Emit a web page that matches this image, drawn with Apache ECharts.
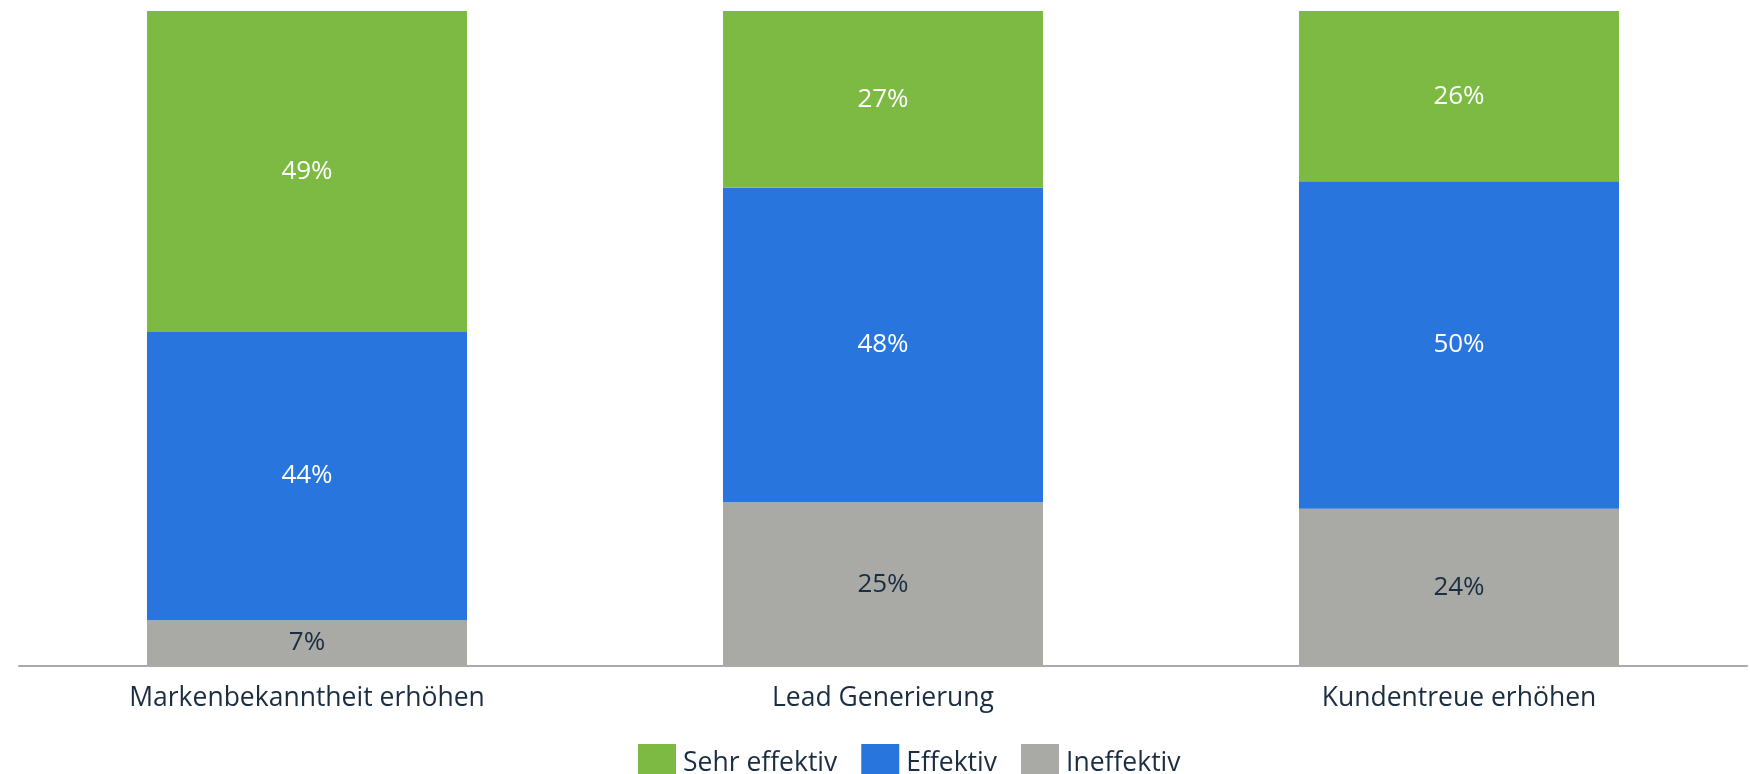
<!DOCTYPE html>
<html>
<head>
<meta charset="utf-8">
<script src="https://cdn.jsdelivr.net/npm/echarts@6/dist/echarts.min.js"></script>
<style>
  html, body { margin: 0; padding: 0; background: #ffffff; }
  #chart { width: 1750px; height: 774px; }
</style>
</head>
<body>
<div id="chart"></div>
<script>
// Categories (x axis)
const categories = ['Markenbekanntheit erhöhen', 'Lead Generierung', 'Kundentreue erhöhen'];

// Series names (legend order)
const seriesNames = ['Sehr effektiv', 'Effektiv', 'Ineffektiv'];

// Shares in percent, one value per category
const ineffektiv = [7, 25, 24];
const effektiv = [44, 48, 50];
const sehrEffektiv = [49, 27, 26];

const colors = {
  green: '#7cba43',
  blue: '#2876dd',
  gray: '#a9aaa5',
  text: '#1b2d41'
};

const FONT = '"Open Sans", "Noto Sans", sans-serif';

function barSeries(name, data, color, labelColor) {
  return {
    name: name,
    type: 'bar',
    stack: 'total',
    barWidth: 320,
    data: data,
    itemStyle: { color: color },
    emphasis: { disabled: true },
    label: {
      show: true,
      position: 'inside',
      formatter: '{c}%',
      color: labelColor,
      fontFamily: FONT,
      fontSize: 26
    }
  };
}

const chart = echarts.init(document.getElementById('chart'), null, { renderer: 'canvas' });

chart.setOption({
  animation: false,
  backgroundColor: '#ffffff',
  grid: { left: 19, right: 3, top: 11, bottom: 108, containLabel: false },
  legend: {
    data: seriesNames,
    left: 633,
    top: 739,
    itemWidth: 38,
    itemHeight: 38,
    itemGap: 24,
    icon: 'rect',
    textStyle: {
      color: colors.text,
      fontFamily: FONT,
      fontSize: 26.5,
      padding: [0, 0, 6, 2]
    }
  },
  xAxis: {
    type: 'category',
    data: categories,
    axisLine: { show: true, lineStyle: { color: '#aaaaaa', width: 2 } },
    axisTick: { show: false },
    axisLabel: {
      color: colors.text,
      fontFamily: FONT,
      fontSize: 26.5,
      margin: 19
    }
  },
  yAxis: {
    type: 'value',
    min: 0,
    max: 100,
    show: false,
    splitLine: { show: false }
  },
  series: [
    barSeries(seriesNames[2], ineffektiv, colors.gray, colors.text),
    barSeries(seriesNames[1], effektiv, colors.blue, '#ffffff'),
    barSeries(seriesNames[0], sehrEffektiv, colors.green, '#ffffff')
  ]
});
</script>
</body>
</html>
